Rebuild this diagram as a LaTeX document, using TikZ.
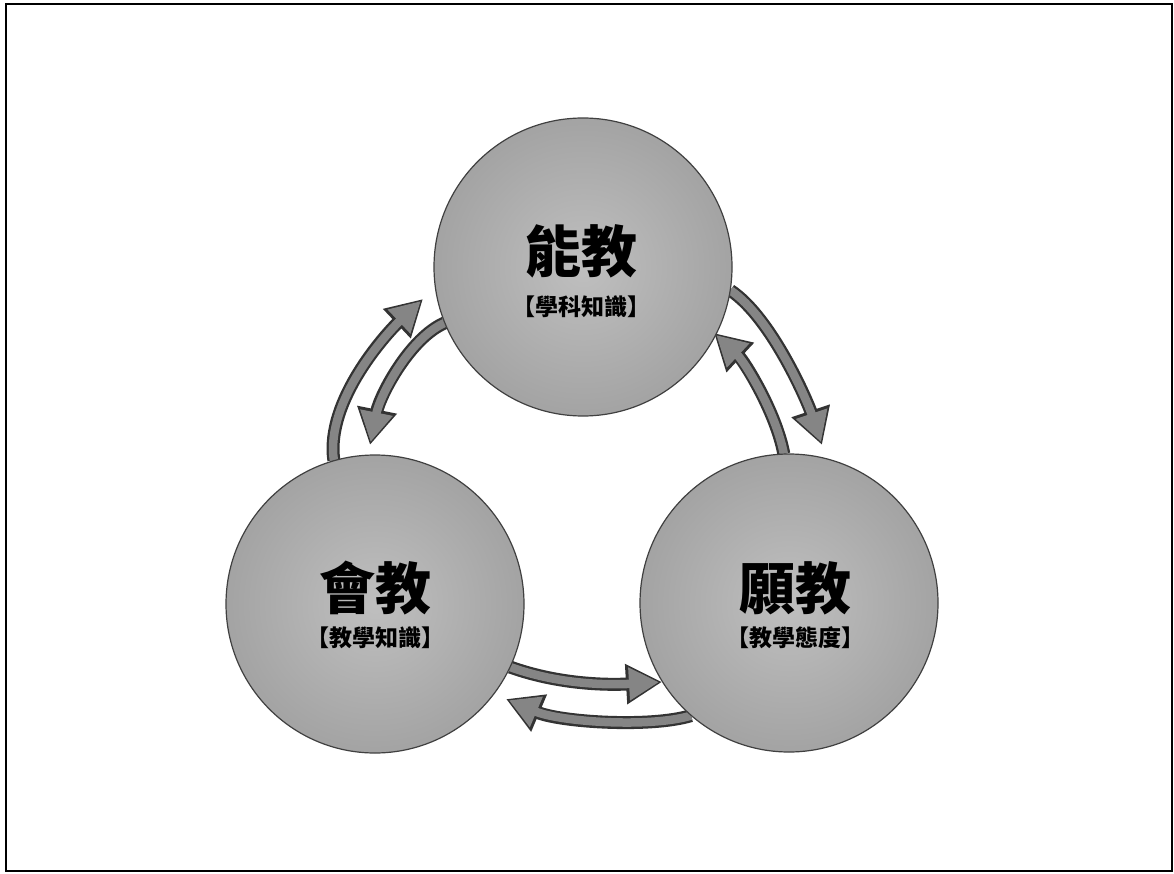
\documentclass[tikz,border=0pt]{standalone}
\usepackage{fontspec}
\newfontfamily\cjk{Noto Sans CJK TC}
\usetikzlibrary{arrows.meta}
\tikzset{
  ball/.style={circle, minimum size=298pt, inner sep=0pt, draw=black!75, line width=1.2pt,
    inner color=gray!50, outer color=gray!72},
  bigtxt/.style={font=\cjk\bfseries\fontsize{56}{60}\selectfont, text=black, inner sep=0pt},
  smalltxt/.style={font=\cjk\bfseries\fontsize{23}{26}\selectfont, text=black, inner sep=0pt},
  arrowout/.style={line width=13pt, draw=black!80, -{Triangle[length=36pt,width=38pt]}},
  arrowin/.style={line width=8.5pt, draw=black!48, shorten >=3pt, -{Triangle[length=30pt,width=31pt]}},
}
\newcommand{\twoarrow}[4]{%
  \draw[arrowout] #1 .. controls #2 and #3 .. #4;
  \draw[arrowin] #1 .. controls #2 and #3 .. #4;}
\begin{document}
\begin{tikzpicture}[x=1pt,y=-1pt]
\useasboundingbox (0,0) rectangle (1174,874);
\fill[white] (0,0) rectangle (1174,874);
\draw[line width=2.2pt, black] (6,4) rectangle (1172,871);

% circle positions (nodes drawn later for layering; coordinates first)
\path (583,267) node[circle, minimum size=298pt, inner sep=0pt] (T) {};
\path (375,604) node[circle, minimum size=298pt, inner sep=0pt] (L) {};
\path (789,603) node[circle, minimum size=298pt, inner sep=0pt] (R) {};

% arrow tips
\coordinate (tA) at (423,299);
\coordinate (tB) at (370,445);
\coordinate (tC) at (822,445);
\coordinate (tD) at (714,333);
\coordinate (tE) at (662,682);
\coordinate (tF) at (506,699);

% arrows
\twoarrow{(L.106)}{(325,400)}{(388,332)}{(tA)}
\twoarrow{(T.202)}{(410,338)}{(380,395)}{(tB)}
\twoarrow{(T.-9)}{(772,318)}{(808,403)}{(tC)}
\twoarrow{(R.92)}{(776,412)}{(744,361)}{(tD)}
\twoarrow{(L.-25)}{(560,685)}{(610,685)}{(tE)}
\twoarrow{(R.229)}{(650,728)}{(560,722)}{(tF)}

% circles on top
\node[ball] (T2) at (T) {};
\node[ball] (L2) at (L) {};
\node[ball] (R2) at (R) {};

% labels
\node[bigtxt] (tT) at (581,251) {能教};
\node[smalltxt] (sT) at (581,307) {【學科知識】};
\node[bigtxt] (tL) at (375,588) {會教};
\node[smalltxt] (sL) at (375,638) {【教學知識】};
\node[bigtxt] (tR) at (795,588) {願教};
\node[smalltxt] (sR) at (795,638) {【教學態度】};
\end{tikzpicture}
\end{document}
